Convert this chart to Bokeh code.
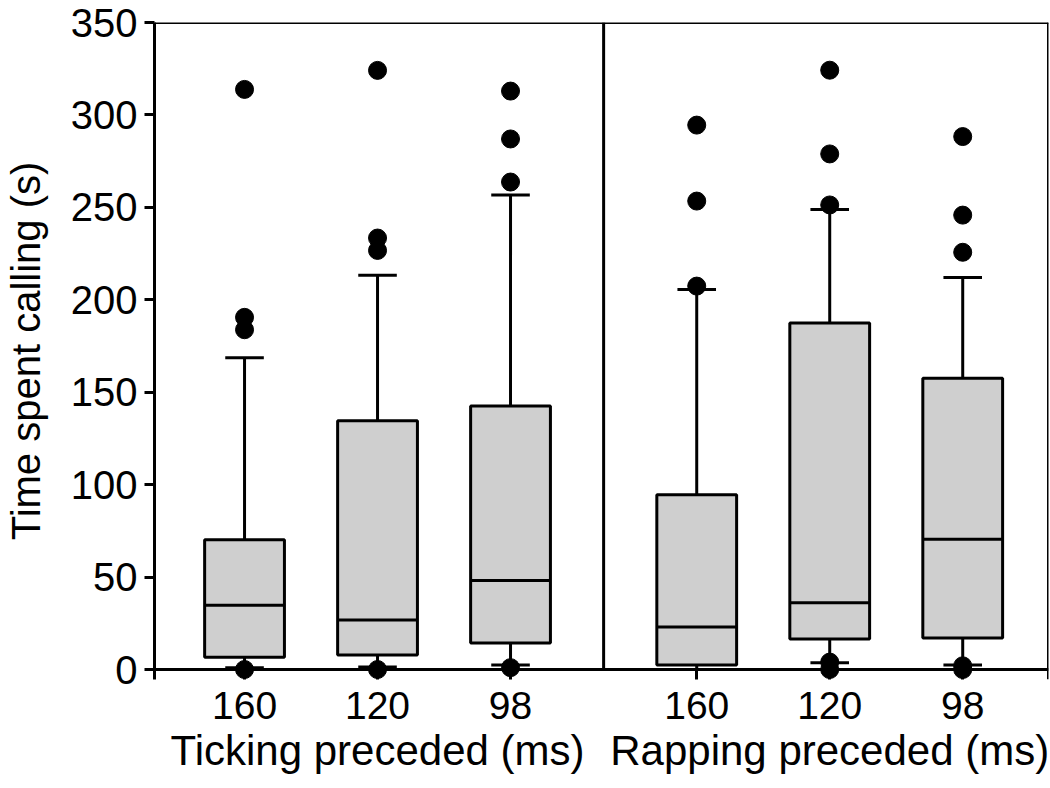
from bokeh.plotting import figure
from bokeh.models import Range1d, FixedTicker, LinearAxis, Span
from bokeh.embed import file_html
from bokeh.resources import INLINE

# ---- data ----
groups = ["Ticking preceded (ms)", "Rapping preceded (ms)"]
intervals = ["160", "120", "98"]

q1 = [6.6, 7.9, 14.3, 2.4, 16.5, 17.0]
median = [34.8, 26.8, 48.2, 23.0, 36.1, 70.4]
q3 = [70.2, 134.5, 142.6, 94.5, 187.5, 157.5]
lower = [1.0, 1.4, 2.4, 0.0, 3.6, 2.4]
upper = [168.7, 213.3, 256.7, 205.5, 248.9, 212.1]
outliers = [
    [313.8, 190.5, 183.8, 0.0],
    [324.1, 233.4, 226.7, 0.0],
    [312.9, 287.0, 263.7, 1.0],
    [294.5, 253.4, 207.4],
    [324.2, 278.9, 251.3, 4.0, 0.0],
    [288.3, 245.8, 225.7, 2.0, 0.0],
]
y_ticks = [0, 50, 100, 150, 200, 250, 300, 350]

# ---- layout constants ----
GROUP_STEP = 3.4
BOX_W = 0.6
CAP_W = 0.29
FONT = "Liberation Sans"
TOP = 22
FRAME_W, FRAME_H = 894, 657
TICK_EXT = 10                       # px the x ticks reach below zero
PX_PER_UNIT = (FRAME_H - TICK_EXT) / 350.0

n = len(intervals)
xs = [g * GROUP_STEP + i for g in range(len(groups)) for i in range(n)]
x_start, x_end = -0.677, 6.045
y_end = 350
y_start = -TICK_EXT / PX_PER_UNIT

p = figure(frame_width=FRAME_W, frame_height=FRAME_H, output_backend="svg",
           toolbar_location=None,
           x_range=Range1d(x_start, x_end), y_range=Range1d(y_start, y_end),
           min_border_left=151, min_border_right=3, min_border_top=TOP,
           min_border_bottom=0, x_axis_type=None, y_axis_type=None)
p.grid.visible = False
p.outline_line_color = None
p.background_fill_color = "white"

# y axis
yax = LinearAxis(ticker=FixedTicker(ticks=y_ticks))
yax.axis_label = "Time spent calling (s)"
yax.axis_label_text_font = FONT
yax.axis_label_text_font_size = "40px"
yax.axis_label_text_font_style = "normal"
yax.axis_label_text_color = "black"
yax.axis_label_standoff = 20
yax.major_label_text_font = FONT
yax.major_label_text_font_size = "40px"
yax.major_label_text_color = "black"
yax.major_label_standoff = 7
yax.axis_line_width = 3
yax.axis_line_color = "black"
yax.major_tick_line_width = 3
yax.major_tick_line_color = "black"
yax.major_tick_out = 10
yax.major_tick_in = 0
yax.minor_tick_line_color = None
p.add_layout(yax, "left")

# x axis: interval labels
xax = LinearAxis(ticker=FixedTicker(ticks=xs))
xax.major_label_overrides = {x: intervals[k % n] for k, x in enumerate(xs)}
xax.major_label_text_font = FONT
xax.major_label_text_font_size = "39px"
xax.major_label_text_color = "black"
xax.major_label_standoff = 12
xax.axis_line_color = None
xax.major_tick_line_width = 3
xax.major_tick_line_color = "black"
xax.major_tick_in = TICK_EXT
xax.major_tick_out = 0
xax.minor_tick_line_color = None
p.add_layout(xax, "below")

# x axis: group labels
gcenters = [g * GROUP_STEP + (n - 1) / 2 for g in range(len(groups))]
gax = LinearAxis(ticker=FixedTicker(ticks=gcenters))
gax.major_label_overrides = {c: groups[g] for g, c in enumerate(gcenters)}
gax.major_label_text_font = FONT
gax.major_label_text_font_size = "42px"
gax.major_label_text_color = "black"
gax.major_label_standoff = 5
gax.axis_line_color = None
gax.major_tick_line_color = None
gax.major_tick_out = 0
gax.major_tick_in = 0
gax.minor_tick_line_color = None
p.add_layout(gax, "below")

# frame lines
p.add_layout(Span(location=y_end, dimension="width", line_color="black", line_width=3))
p.add_layout(Span(location=x_end, dimension="height", line_color="black", line_width=3))
p.add_layout(Span(location=0, dimension="width", line_color="black", line_width=3))
div_x = (xs[n - 1] + xs[n]) / 2
p.segment(x0=[div_x], y0=[0], x1=[div_x], y1=[y_end], line_color="black", line_width=3)

# boxes
p.vbar(x=xs, width=BOX_W, bottom=q1, top=q3, fill_color="#cfcfcf",
       line_color="black", line_width=3)
p.segment(x0=[x - BOX_W / 2 for x in xs], y0=median, x1=[x + BOX_W / 2 for x in xs],
          y1=median, line_color="black", line_width=3)
# whiskers
p.segment(x0=xs, y0=q3, x1=xs, y1=upper, line_color="black", line_width=3)
p.segment(x0=xs, y0=q1, x1=xs, y1=lower, line_color="black", line_width=3)
p.segment(x0=[x - CAP_W / 2 for x in xs], y0=upper, x1=[x + CAP_W / 2 for x in xs],
          y1=upper, line_color="black", line_width=3)
p.segment(x0=[x - CAP_W / 2 for x in xs], y0=lower, x1=[x + CAP_W / 2 for x in xs],
          y1=lower, line_color="black", line_width=3)
# outliers
ox, oy = [], []
for x, vals in zip(xs, outliers):
    for v in vals:
        ox.append(x)
        oy.append(v)
p.scatter(ox, oy, size=18, fill_color="black", line_color="black")

open("out.html", "w").write(file_html(p, INLINE))
